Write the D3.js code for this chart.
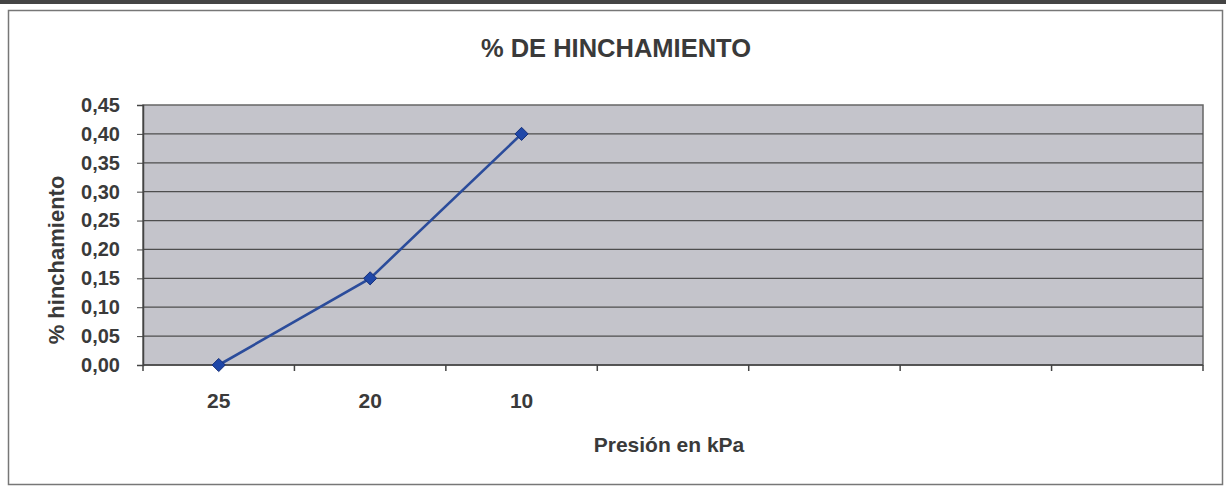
<!DOCTYPE html>
<meta charset="utf-8">
<style>
body { margin: 0; background: #fff; }
svg { display: block; font-family: Arial, "Liberation Sans", sans-serif; }
.axis text { font-weight: bold; fill: #3a3a3a; }
</style>
<svg width="1226" height="486"></svg>
<script src="https://d3js.org/d3.v7.min.js"></script>
<script>
// Data
var categories = ["25", "20", "10", "", "", "", ""];
var values = [0.00, 0.15, 0.40];
var yTicks = [0, 0.05, 0.10, 0.15, 0.20, 0.25, 0.30, 0.35, 0.40, 0.45];

var svg = d3.select("svg");
var margin = {left: 143, top: 105, right: 1203, bottom: 365};

// scan band + chart frame
svg.append("rect").attr("x", 0).attr("y", 0).attr("width", 1226).attr("height", 4).attr("fill", "#444");
svg.append("rect").attr("x", 8.5).attr("y", 10.5).attr("width", 1214).attr("height", 474)
    .attr("fill", "#fff").attr("stroke", "#777").attr("stroke-width", 1.5);

var x = d3.scaleBand()
    .domain(d3.range(categories.length))
    .range([margin.left, margin.right]);

var y = d3.scaleLinear()
    .domain([0, 0.45])
    .range([margin.bottom, margin.top]);

// plot area
svg.append("rect")
    .attr("x", margin.left).attr("y", margin.top)
    .attr("width", margin.right - margin.left).attr("height", margin.bottom - margin.top)
    .attr("fill", "#c4c4cb")
    .attr("stroke", "#666").attr("stroke-width", 1.5);

// gridlines
svg.append("g")
  .selectAll("line")
  .data(yTicks.slice(1, -1))
  .enter().append("line")
    .attr("x1", margin.left).attr("x2", margin.right)
    .attr("y1", function(d) { return y(d); })
    .attr("y2", function(d) { return y(d); })
    .attr("stroke", "#4e4e4e").attr("stroke-width", 1.2);

// y axis
var fmt = function(d) { return d3.format(".2f")(d).replace(".", ","); };
svg.append("g")
    .attr("class", "axis")
    .attr("transform", "translate(" + margin.left + ",0)")
    .call(d3.axisLeft(y).tickValues(yTicks).tickFormat(fmt).tickSize(6).tickPadding(17))
    .call(function(g) { g.select(".domain").attr("stroke", "#444").attr("stroke-width", 1.5); })
    .call(function(g) { g.selectAll(".tick line").attr("stroke", "#444"); })
    .call(function(g) { g.selectAll("text").style("font-size", "20px").attr("font-family", null); });

// x axis
var xAxis = svg.append("g")
    .attr("class", "axis")
    .attr("transform", "translate(0," + margin.bottom + ")");
xAxis.append("line")
    .attr("x1", margin.left).attr("x2", margin.right)
    .attr("stroke", "#444").attr("stroke-width", 1.5);
xAxis.selectAll(".edge")
  .data(d3.range(categories.length + 1))
  .enter().append("line")
    .attr("x1", function(i) { return i < categories.length ? x(i) : x.range()[1]; })
    .attr("x2", function(i) { return i < categories.length ? x(i) : x.range()[1]; })
    .attr("y1", 0).attr("y2", 6)
    .attr("stroke", "#444").attr("stroke-width", 1.5);
xAxis.selectAll("text")
  .data(categories)
  .enter().append("text")
    .attr("x", function(d, i) { return x(i) + x.bandwidth() / 2; })
    .attr("y", 43)
    .attr("text-anchor", "middle")
    .style("font-size", "21px")
    .text(function(d) { return d; });

// line + markers
var line = d3.line()
    .x(function(d, i) { return x(i) + x.bandwidth() / 2; })
    .y(function(d) { return y(d); });

svg.append("path")
    .datum(values)
    .attr("d", line)
    .attr("fill", "none")
    .attr("stroke", "#2b4c9b")
    .attr("stroke-width", 2.6);

svg.append("g")
  .selectAll("path")
  .data(values)
  .enter().append("path")
    .attr("d", d3.symbol().type(d3.symbolDiamond2).size(110))
    .attr("transform", function(d, i) { return "translate(" + (x(i) + x.bandwidth() / 2) + "," + y(d) + ")"; })
    .attr("fill", "#1f47a8")
    .attr("stroke", "#16307a").attr("stroke-width", 1);

// titles
svg.append("text")
    .attr("x", 616).attr("y", 57)
    .attr("text-anchor", "middle")
    .attr("font-size", "25.5px").attr("font-weight", "bold").attr("fill", "#3a3a3a")
    .text("% DE HINCHAMIENTO");

svg.append("text")
    .attr("x", 669).attr("y", 452)
    .attr("text-anchor", "middle")
    .attr("font-size", "21px").attr("font-weight", "bold").attr("fill", "#3a3a3a")
    .text("Presión en kPa");

svg.append("text")
    .attr("transform", "translate(64,260) rotate(-90)")
    .attr("text-anchor", "middle")
    .attr("font-size", "22px").attr("font-weight", "bold").attr("fill", "#3a3a3a")
    .text("% hinchamiento");
</script>
